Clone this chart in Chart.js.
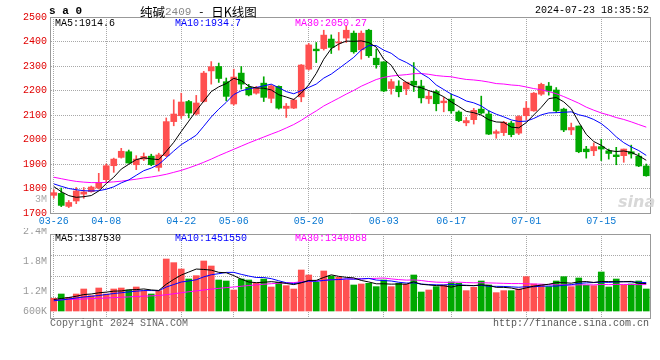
<!DOCTYPE html>
<html><head><meta charset="utf-8">
<script src="https://cdn.jsdelivr.net/npm/chart.js@4.4.1/dist/chart.umd.min.js"></script>
<style>
html,body{margin:0;padding:0;background:#fff;}
body{width:660px;height:360px;overflow:hidden;position:relative;font-family:'Liberation Mono','DejaVu Sans Mono',monospace;}
canvas{position:absolute;left:0;}
.t{position:absolute;white-space:pre;font-size:10px;line-height:12px;}
.cjk{font-family:'Noto Sans CJK SC',sans-serif;font-size:12.5px;}
.up{position:relative;top:-2px;}
</style></head><body>
<canvas id="pc" width="660" height="232" style="top:0px"></canvas>
<canvas id="vc" width="660" height="132" style="top:228px"></canvas>

<div class="t" style="left:49px;top:5px;font-size:11px;font-weight:bold;">s a 0</div>
<div class="t" style="left:140px;top:3px;font-size:11px;line-height:17px;"><span class="cjk">纯碱</span><span class="up" style="color:#888">2409</span><span class="up"> - </span><span class="cjk">日K线图</span></div>
<div class="t" style="right:11px;top:5px;">2024-07-23 18:35:52</div>

<div class="t" style="left:55px;top:18px;color:#000">MA5:1914.6</div>
<div class="t" style="left:175px;top:18px;color:#0000ff">MA10:1934.7</div>
<div class="t" style="left:295px;top:18px;color:#ff00ff">MA30:2050.27</div>

<div class="t" style="right:613px;top:194px;color:#aaa">3M</div>
<div class="t" style="left:618px;top:193px;font-size:16px;line-height:18px;font-style:italic;font-weight:bold;font-family:'DejaVu Sans',sans-serif;color:#d8d8d8">sina</div>

<div class="t" style="left:55px;top:233px;color:#000">MA5:1387530</div>
<div class="t" style="left:175px;top:233px;color:#0000ff">MA10:1451550</div>
<div class="t" style="left:295px;top:233px;color:#ff00ff">MA30:1340868</div>

<div class="t" style="left:50px;top:318px;color:#666">Copyright 2024 SINA.COM</div>
<div class="t" style="right:11px;top:318px;color:#555">http://finance.sina.com.cn</div>

<script>
// ---------- data ----------
const dates = ['03-26','03-27','03-28','03-29','04-01','04-02','04-03','04-08','04-09','04-10','04-11','04-12','04-15','04-16','04-17','04-18','04-19','04-22','04-23','04-24','04-25','04-26','04-29','04-30','05-06','05-07','05-08','05-09','05-10','05-13','05-14','05-15','05-16','05-17','05-20','05-21','05-22','05-23','05-24','05-27','05-28','05-29','05-30','05-31','06-03','06-04','06-05','06-06','06-07','06-11','06-12','06-13','06-14','06-17','06-18','06-19','06-20','06-21','06-24','06-25','06-26','06-27','06-28','07-01','07-02','07-03','07-04','07-05','07-08','07-09','07-10','07-11','07-12','07-15','07-16','07-17','07-18','07-19','07-22','07-23'];
const shownDates = ['03-26','04-08','04-22','05-06','05-20','06-03','06-17','07-01','07-15'];

const open  = [1772,1780,1727,1749,1777,1787,1802,1836,1893,1927,1950,1897,1920,1932,1886,1934,2073,2097,2155,2104,2155,2280,2298,2236,2145,2271,2213,2189,2230,2168,2217,2127,2128,2174,2287,2369,2371,2410,2394,2414,2434,2366,2446,2332,2317,2208,2218,2206,2238,2218,2166,2196,2150,2165,2112,2068,2081,2124,2104,2025,2028,2067,2026,2097,2117,2185,2218,2202,2124,2039,2055,1961,1954,1971,1954,1937,1934,1950,1932,1892];
const high  = [1795,1802,1751,1804,1804,1810,1862,1900,1924,1964,1957,1934,1945,1940,1944,2088,2162,2189,2160,2180,2278,2318,2312,2251,2287,2298,2225,2217,2256,2223,2219,2147,2165,2306,2392,2396,2446,2427,2437,2464,2443,2443,2450,2369,2317,2246,2240,2234,2314,2242,2196,2202,2172,2185,2117,2090,2127,2177,2117,2039,2074,2074,2097,2155,2192,2230,2233,2212,2128,2067,2055,1972,1986,2001,1961,1968,1961,1977,1943,1900];
const low   = [1760,1726,1722,1738,1760,1785,1798,1825,1866,1924,1903,1877,1914,1893,1871,1930,2056,2086,2088,2100,2153,2226,2233,2158,2140,2206,2178,2185,2155,2150,2124,2090,2126,2154,2283,2314,2365,2351,2365,2396,2352,2328,2335,2291,2195,2185,2174,2183,2196,2149,2147,2117,2113,2107,2073,2056,2063,2104,2020,2005,2016,2011,2020,2079,2115,2180,2181,2110,2032,2020,1946,1924,1934,1914,1920,1897,1907,1924,1889,1850];
const close = [1783,1731,1743,1790,1786,1806,1825,1893,1920,1952,1904,1920,1931,1897,1937,2073,2104,2153,2108,2149,2271,2297,2249,2176,2255,2226,2182,2212,2172,2219,2128,2136,2161,2304,2386,2362,2426,2376,2398,2446,2358,2434,2342,2305,2198,2236,2195,2234,2222,2170,2177,2146,2157,2117,2077,2077,2119,2108,2022,2032,2070,2020,2094,2128,2189,2225,2198,2117,2039,2049,1950,1950,1971,1961,1943,1930,1961,1941,1892,1852];

const ma5  = [1808,1787,1771,1764,1766.6,1771.2,1790,1820,1846,1879.2,1898.8,1917.8,1925.4,1920.8,1917.8,1951.6,1988.4,2032.8,2075,2117.4,2157,2195.6,2214.8,2228.4,2249.6,2240.6,2217.6,2210.2,2209.4,2202.2,2182.6,2173.4,2163.2,2189.6,2223,2269.8,2327.8,2370.8,2389.6,2401.6,2400.8,2402.4,2395.6,2377,2327.4,2303,2255.2,2233.6,2217,2211.4,2199.6,2189.8,2174.4,2153.4,2134.8,2114.8,2109.4,2099.6,2080.6,2071.6,2070.2,2050.4,2047.6,2068.8,2100.2,2131.2,2166.8,2171.4,2153.6,2125.6,2070.6,2021,1991.8,1976.2,1955,1951,1953.2,1947.2,1933.4,1915.2];
const ma10 = [1819,1809,1800,1795,1791,1790,1791,1797,1807,1822.9,1835,1853.9,1872.7,1883.4,1898.5,1925.2,1953.1,1979.1,1997.9,2017.6,2054.3,2092,2123.8,2151.7,2183.5,2198.8,2206.6,2212.5,2218.9,2225.9,2211.6,2195.5,2186.7,2199.5,2212.6,2226.2,2250.6,2267,2289.6,2312.3,2335.3,2365.1,2383.2,2383.3,2364.5,2351.9,2328.8,2314.6,2297,2269.4,2251.3,2222.5,2204,2185.2,2173.1,2157.2,2149.6,2137,2117,2103.2,2092.5,2079.9,2073.6,2074.7,2085.9,2100.7,2108.6,2109.5,2111.2,2112.9,2100.9,2093.9,2081.6,2064.9,2040.3,2010.8,1987.1,1969.5,1954.8,1935.1];
const ma30 = [1846,1840,1834,1829,1826,1824,1824,1825,1827,1830,1834,1838,1843,1847,1852,1858,1866,1874,1884,1895,1907,1920,1934,1947,1960,1973,1986,1998,2010,2022.1,2033.6,2047.1,2061.1,2078.2,2098.2,2116.7,2136.8,2152.9,2168.8,2185.3,2200.4,2217.5,2231.2,2244.8,2253.5,2259,2262,2264.7,2268.5,2269.2,2266.1,2261,2258,2256,2250.1,2245.1,2243,2239.5,2234.5,2228.3,2226.4,2222.5,2220.3,2214.4,2207.8,2203.3,2195.7,2187,2175.1,2161.8,2148.2,2132.1,2119.7,2108.3,2099.8,2089.6,2081.8,2072,2061,2050.4];

const volume = [1113000,1200000,1133000,1200000,1300000,1167000,1320000,1200000,1300000,1320000,1280000,1340000,1267000,1200000,1267000,1900000,1827000,1700000,1500000,1567000,1860000,1760000,1480000,1460000,1280000,1500000,1480000,1413000,1500000,1340000,1433000,1367000,1300000,1680000,1580000,1433000,1660000,1560000,1533000,1480000,1380000,1400000,1413000,1347000,1480000,1347000,1413000,1393000,1580000,1240000,1280000,1347000,1380000,1440000,1413000,1267000,1333000,1460000,1380000,1227000,1267000,1267000,1300000,1547000,1400000,1380000,1347000,1460000,1547000,1347000,1520000,1373000,1367000,1640000,1340000,1500000,1380000,1400000,1460000,1300000];
const vma5  = [1090000,1110000,1130000,1155000,1189000,1200000,1224000,1237000,1257000,1261000,1284000,1288000,1301000,1281000,1271000,1395000,1492000,1579000,1639000,1699000,1691000,1677000,1633000,1625000,1568000,1496000,1440000,1427000,1435000,1447000,1433000,1411000,1388000,1424000,1472000,1472000,1531000,1583000,1553000,1533000,1523000,1471000,1441000,1404000,1404000,1397000,1400000,1396000,1443000,1395000,1381000,1368000,1365000,1337000,1372000,1369000,1367000,1383000,1371000,1333000,1333000,1320000,1288000,1322000,1356000,1379000,1395000,1427000,1427000,1416000,1444000,1449000,1431000,1449000,1448000,1444000,1445000,1452000,1416000,1408000];
const vma10 = [1065000,1080000,1100000,1120000,1140000,1155000,1170000,1190000,1210000,1225000,1242000,1256000,1269000,1269000,1266000,1339000,1390000,1440000,1460000,1485000,1543000,1585000,1606000,1632000,1633000,1593000,1559000,1530000,1530000,1507000,1465000,1425000,1407000,1429000,1459000,1453000,1471000,1485000,1489000,1503000,1497000,1501000,1512000,1479000,1469000,1460000,1435000,1419000,1423000,1399000,1389000,1384000,1381000,1390000,1383000,1375000,1367000,1374000,1354000,1353000,1351000,1343000,1335000,1346000,1345000,1356000,1358000,1358000,1374000,1386000,1412000,1422000,1429000,1438000,1432000,1444000,1447000,1441000,1433000,1428000];
const vma30 = [1080000,1085000,1090000,1095000,1100000,1107000,1113000,1120000,1127000,1135000,1142000,1150000,1157000,1163000,1170000,1185000,1205000,1225000,1245000,1262000,1280000,1298000,1313000,1328000,1340000,1355000,1370000,1383000,1395000,1406000,1416000,1422000,1428000,1444000,1453000,1462000,1473000,1485000,1493000,1498000,1502000,1504000,1508000,1513000,1520000,1502000,1488000,1478000,1481000,1470000,1450000,1437000,1433000,1433000,1437000,1429000,1424000,1426000,1422000,1418000,1413000,1409000,1409000,1405000,1399000,1397000,1387000,1383000,1384000,1379000,1384000,1383000,1382000,1391000,1387000,1392000,1391000,1391000,1387000,1389000];

const priceMin = 1700, priceMax = 2500, priceStep = 100;
const volMin = 720000, volMax = 2400000, volBase = 860000;
const volTickValues = [2400000, 1800000, 1200000, 600000];
const volTickLabels = ['2.4M', '1.8M', '1.2M', '600K'];

// ---------- styling ----------
const RED = '#ff5050', GREEN = '#00a800';
const GRID = '#a8a8a8', FRAME = '#999999';
const FONT = "'Liberation Mono','DejaVu Sans Mono',monospace";
Chart.defaults.font.family = FONT;
Chart.defaults.font.size = 10;

const candleColors = close.map((c, i) => c >= open[i] ? RED : GREEN);
const wicks = low.map((l, i) => [l, high[i]]);
const bodies = open.map((o, i) => [o, close[i]]);
const shownIdx = new Set(dates.map((d, i) => shownDates.includes(d) ? i : -1).filter(i => i >= 0));

function frameAxes(topH, rightW) {
  return {
    xT: { type: 'category', position: 'top', display: true, grid: { display: false }, ticks: { display: false },
          border: { display: true, color: FRAME, width: 1 }, afterFit(s) { s.height = topH; } },
    yR: { type: 'linear', position: 'right', display: true, grid: { display: false }, ticks: { display: false },
          border: { display: true, color: FRAME, width: 1 }, afterFit(s) { s.width = rightW; } }
  };
}
const lineDs = (data, color) => ({ type: 'line', data, borderColor: color, borderWidth: 1, pointRadius: 0, tension: 0, fill: false, order: 1 });

// ---------- price chart ----------
new Chart(document.getElementById('pc'), {
  type: 'bar',
  data: {
    labels: dates,
    datasets: [
      { data: wicks, backgroundColor: candleColors, barThickness: 1, grouped: false, order: 3 },
      { data: bodies, backgroundColor: candleColors, barThickness: 6, grouped: false, minBarLength: 1, order: 2 },
      lineDs(ma5, '#000000'),
      lineDs(ma10, '#0000ff'),
      lineDs(ma30, '#ff00ff')
    ]
  },
  options: {
    responsive: false, animation: false, devicePixelRatio: 1,
    layout: { padding: 0 },
    plugins: { legend: { display: false }, tooltip: { enabled: false } },
    scales: {
      x: { type: 'category', position: 'bottom', offset: true,
           grid: { offset: false, drawTicks: false, color: c => shownIdx.has(c.index) ? GRID : 'rgba(0,0,0,0)' },
           border: { display: true, color: FRAME, width: 1, dash: [1, 1] },
           ticks: { autoSkip: false, maxRotation: 0, padding: 2, color: '#0a78d2',
                    callback: (v, i) => shownIdx.has(i) ? dates[i] : '' },
           afterFit(s) { s.height = 19; } },
      y: { type: 'linear', position: 'left', min: priceMin, max: priceMax,
           grid: { drawTicks: false, color: GRID },
           border: { display: true, color: FRAME, width: 1, dash: [1, 1] },
           ticks: { stepSize: priceStep, padding: 3, color: '#e00000', callback: v => String(v) },
           afterFit(s) { s.width = 50; } },
      ...frameAxes(17, 10)
    }
  }
});

// ---------- volume chart ----------
const volLabels = {
  id: 'volLabels',
  afterDraw(chart) {
    const ys = chart.scales.y, ctx = chart.ctx;
    ctx.save();
    ctx.font = '10px ' + FONT;
    ctx.fillStyle = '#999';
    ctx.textAlign = 'right';
    ctx.textBaseline = 'middle';
    volTickValues.forEach((v, k) => {
      const y = Math.min(ys.getPixelForValue(v) - 3, ys.bottom - 7);
      ctx.fillText(volTickLabels[k], 47, y);
    });
    ctx.restore();
  }
};
new Chart(document.getElementById('vc'), {
  type: 'bar',
  data: {
    labels: dates,
    datasets: [
      { data: volume, base: volBase, backgroundColor: candleColors, barThickness: 6, grouped: false, order: 2 },
      lineDs(vma5, '#000000'),
      lineDs(vma10, '#0000ff'),
      lineDs(vma30, '#ff00ff')
    ]
  },
  options: {
    responsive: false, animation: false, devicePixelRatio: 1,
    layout: { padding: 0 },
    plugins: { legend: { display: false }, tooltip: { enabled: false } },
    scales: {
      x: { type: 'category', position: 'bottom', offset: true,
           grid: { offset: false, drawTicks: false, color: c => shownIdx.has(c.index) ? GRID : 'rgba(0,0,0,0)' },
           border: { display: true, color: FRAME, width: 1, dash: [1, 1] },
           ticks: { display: false, autoSkip: false },
           afterFit(s) { s.height = 42; } },
      y: { type: 'linear', position: 'left', min: volMin, max: volMax,
           afterBuildTicks(s) { s.ticks = [0, 1, 2, 3, 4].map(k => ({ value: volMin + k * (volMax - volMin) / 4 })); },
           grid: { drawTicks: false, color: GRID },
           border: { display: true, color: FRAME, width: 1, dash: [1, 1] },
           ticks: { display: false },
           afterFit(s) { s.width = 50; } },
      ...frameAxes(6, 10)
    }
  },
  plugins: [volLabels]
});
</script>
</body></html>
